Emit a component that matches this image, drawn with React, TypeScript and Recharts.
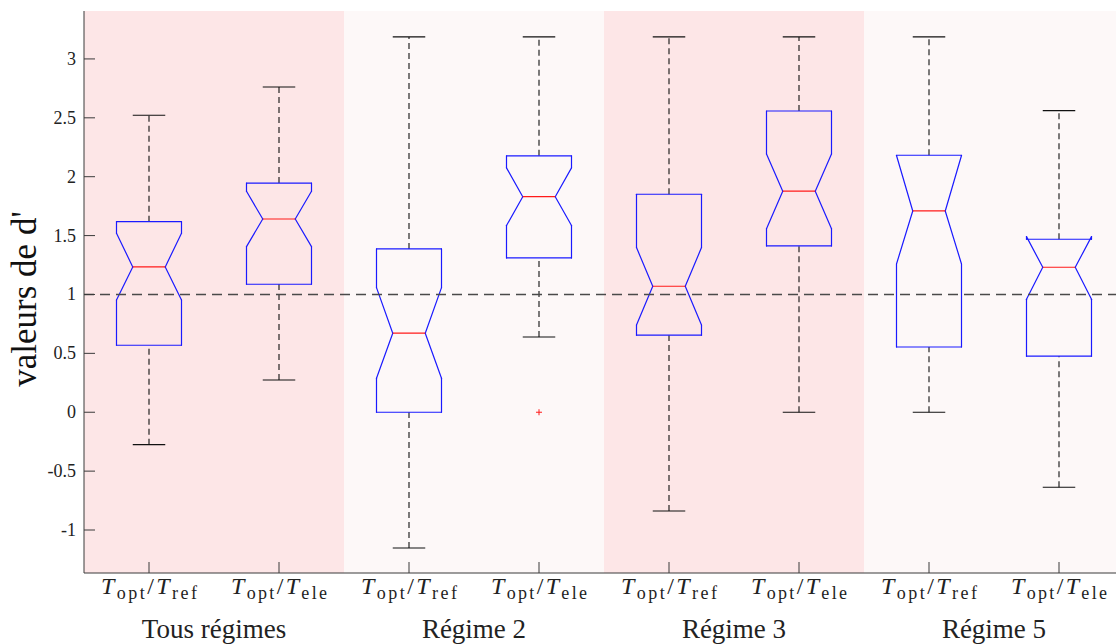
import React from "react";
import {
  ComposedChart,
  XAxis,
  YAxis,
  ReferenceArea,
  ReferenceLine,
  Scatter,
} from "recharts";

// ---------- data ----------
const positions = [1, 2, 3, 4, 5, 6, 7, 8];
const tickNumSub = ["opt", "opt", "opt", "opt", "opt", "opt", "opt", "opt"];
const tickDenSub = ["ref", "ele", "ref", "ele", "ref", "ele", "ref", "ele"];
const groupLabels = ["Tous régimes", "Régime 2", "Régime 3", "Régime 5"];
const bandEdges = [0.5, 2.5, 4.5, 6.5, 8.5];

const whiskerLow = [-0.275, 0.274, -1.153, 0.639, -0.838, 0, 0, -0.637];
const q1 = [0.569, 1.087, 0, 1.31, 0.654, 1.412, 0.554, 0.476];
const notchLow = [0.954, 1.406, 0.289, 1.585, 0.741, 1.559, 1.259, 0.959];
const median = [1.234, 1.641, 0.671, 1.83, 1.07, 1.877, 1.709, 1.231];
const notchHigh = [1.52, 1.876, 1.058, 2.075, 1.398, 2.193, 2.18, 1.491];
const q3 = [1.618, 1.946, 1.387, 2.177, 1.851, 2.558, 2.182, 1.469];
const whiskerHigh = [2.522, 2.762, 3.187, 3.187, 3.187, 3.187, 3.187, 2.561];
const outliers = [{ x: 4, y: 0 }];

const yTicks = [-1, -0.5, 0, 0.5, 1, 1.5, 2, 2.5, 3];
const referenceValue = 1;
const xDomain = [0.5, 8.5];
const yDomain = [-1.365, 3.407];

// ---------- style ----------
const SERIF = "'Liberation Serif', 'DejaVu Serif', serif";
const AXIS = "#3a3a3a";
const BLUE = "#1a1aff";
const RED = "#ff1a1a";
const BAND_COLORS = ["#fde6e7", "#fdf8f8"];
const BOX_HALF = 0.25;
const NOTCH_HALF = 0.125;
const CAP_HALF = 0.125;
const TICK_LEN = 11;
const GROUP_OFFSET = 65;

const XTick = (props: any) => {
  const { x, y, payload } = props;
  const i = positions.indexOf(payload.value);
  return (
    <g>
      <line x1={x} x2={x} y1={y} y2={y - TICK_LEN} stroke={AXIS} strokeWidth={1} />
      <text
        x={x}
        y={y + 21}
        textAnchor="middle"
        fontFamily={SERIF}
        fontSize={24}
        fill="#222"
        textLength={96}
        lengthAdjust="spacing"
      >
        <tspan fontStyle="italic">T</tspan>
        <tspan fontSize={18} dy={5}>{tickNumSub[i]}</tspan>
        <tspan dy={-5}>/</tspan>
        <tspan fontStyle="italic">T</tspan>
        <tspan fontSize={18} dy={5}>{tickDenSub[i]}</tspan>
      </text>
      {i % 2 === 0 && (
        <text
          x={x + GROUP_OFFSET}
          y={y + 65}
          textAnchor="middle"
          fontFamily={SERIF}
          fontSize={27}
          fill="#222"
        >
          {groupLabels[i / 2]}
        </text>
      )}
    </g>
  );
};

const YTick = (props: any) => {
  const { x, y, payload } = props;
  return (
    <g>
      <line x1={x} x2={x + TICK_LEN} y1={y} y2={y} stroke={AXIS} strokeWidth={1} />
      <text x={x - 8} y={y + 6} textAnchor="end" fontFamily={SERIF} fontSize={18} fill="#222">
        {String(payload.value)}
      </text>
    </g>
  );
};

const OutlierShape = (props: any) => {
  const { cx, cy } = props;
  return (
    <g stroke={RED} strokeWidth={1}>
      <line x1={cx - 3} x2={cx + 3} y1={cy} y2={cy} />
      <line x1={cx} x2={cx} y1={cy - 3} y2={cy + 3} />
    </g>
  );
};

function boxOutline(i: number) {
  const x = positions[i];
  const pts: [number, number][] = [
    [x - BOX_HALF, q1[i]],
    [x + BOX_HALF, q1[i]],
    [x + BOX_HALF, notchLow[i]],
    [x + NOTCH_HALF, median[i]],
    [x + BOX_HALF, notchHigh[i]],
    [x + BOX_HALF, q3[i]],
    [x - BOX_HALF, q3[i]],
    [x - BOX_HALF, notchHigh[i]],
    [x - NOTCH_HALF, median[i]],
    [x - BOX_HALF, notchLow[i]],
    [x - BOX_HALF, q1[i]],
  ];
  const segs = [];
  for (let k = 0; k < pts.length - 1; k++) {
    segs.push(
      <ReferenceLine
        key={`b${i}-${k}`}
        segment={[
          { x: pts[k][0], y: pts[k][1] },
          { x: pts[k + 1][0], y: pts[k + 1][1] },
        ]}
        stroke={BLUE}
        strokeWidth={1.2}
        strokeLinecap="round"
        ifOverflow="visible"
      />
    );
  }
  return segs;
}

function whiskers(i: number) {
  const x = positions[i];
  return [
    <ReferenceLine
      key={`wu${i}`}
      segment={[{ x, y: q3[i] }, { x, y: whiskerHigh[i] }]}
      stroke="#111"
      strokeWidth={1.1}
      strokeDasharray="6 4"
      ifOverflow="visible"
    />,
    <ReferenceLine
      key={`wl${i}`}
      segment={[{ x, y: whiskerLow[i] }, { x, y: q1[i] }]}
      stroke="#111"
      strokeWidth={1.1}
      strokeDasharray="6 4"
      ifOverflow="visible"
    />,
    <ReferenceLine
      key={`cu${i}`}
      segment={[{ x: x - CAP_HALF, y: whiskerHigh[i] }, { x: x + CAP_HALF, y: whiskerHigh[i] }]}
      stroke="#111"
      strokeWidth={1.1}
      ifOverflow="visible"
    />,
    <ReferenceLine
      key={`cl${i}`}
      segment={[{ x: x - CAP_HALF, y: whiskerLow[i] }, { x: x + CAP_HALF, y: whiskerLow[i] }]}
      stroke="#111"
      strokeWidth={1.1}
      ifOverflow="visible"
    />,
  ];
}

function medianLine(i: number) {
  const x = positions[i];
  return (
    <ReferenceLine
      key={`m${i}`}
      segment={[{ x: x - NOTCH_HALF, y: median[i] }, { x: x + NOTCH_HALF, y: median[i] }]}
      stroke={RED}
      strokeWidth={1.2}
      ifOverflow="visible"
    />
  );
}

export default function App() {
  return (
    <div
      style={{
        position: "fixed",
        left: 0,
        top: 0,
        width: 1116,
        height: 644,
        overflow: "hidden",
        background: "#fff",
      }}
    >
      <ComposedChart
        width={1130}
        height={644}
        margin={{ top: 11, right: 6, left: 0, bottom: 0 }}
      >
        <XAxis
          type="number"
          dataKey="x"
          domain={xDomain}
          ticks={positions}
          interval={0}
          allowDataOverflow
          height={71}
          tickSize={0}
          tickMargin={0}
          tickLine={false}
          axisLine={{ stroke: AXIS, strokeWidth: 1 }}
          tick={<XTick />}
        />
        <XAxis
          xAxisId="top"
          orientation="top"
          mirror
          type="number"
          domain={xDomain}
          ticks={positions}
          allowDataOverflow
          height={0}
          tickSize={TICK_LEN}
          tick={false}
          tickLine={{ stroke: AXIS }}
          axisLine={{ stroke: AXIS, strokeWidth: 1 }}
        />
        <YAxis
          type="number"
          dataKey="y"
          domain={yDomain}
          ticks={yTicks}
          interval={0}
          allowDataOverflow
          width={84}
          tickSize={0}
          tickMargin={0}
          tickLine={false}
          axisLine={{ stroke: AXIS, strokeWidth: 1 }}
          tick={<YTick />}
          label={{
            content: () => (
              <text
                x={36}
                y={299}
                transform="rotate(-90 36 299)"
                textAnchor="middle"
                fontFamily={SERIF}
                fontSize={35}
                fill="#111"
              >
                valeurs de d'
              </text>
            ),
          }}
        />
        <YAxis
          yAxisId="right"
          orientation="right"
          mirror
          type="number"
          domain={yDomain}
          ticks={yTicks}
          allowDataOverflow
          width={0}
          tickSize={TICK_LEN}
          tick={false}
          tickLine={{ stroke: AXIS }}
          axisLine={{ stroke: AXIS, strokeWidth: 1 }}
        />
        {bandEdges.slice(0, -1).map((e, k) => (
          <ReferenceArea
            key={`band${k}`}
            x1={e}
            x2={bandEdges[k + 1]}
            fill={BAND_COLORS[k % 2]}
            fillOpacity={1}
            stroke="none"
            ifOverflow="visible"
          />
        ))}
        {positions.map((_, i) => whiskers(i))}
        {positions.map((_, i) => boxOutline(i))}
        {positions.map((_, i) => medianLine(i))}
        <ReferenceLine
          y={referenceValue}
          stroke="#4a4a4a"
          strokeWidth={1.4}
          strokeDasharray="10 6"
        />
        <Scatter
          data={outliers}
          dataKey="y"
          isAnimationActive={false}
          shape={<OutlierShape />}
        />
      </ComposedChart>
    </div>
  );
}
